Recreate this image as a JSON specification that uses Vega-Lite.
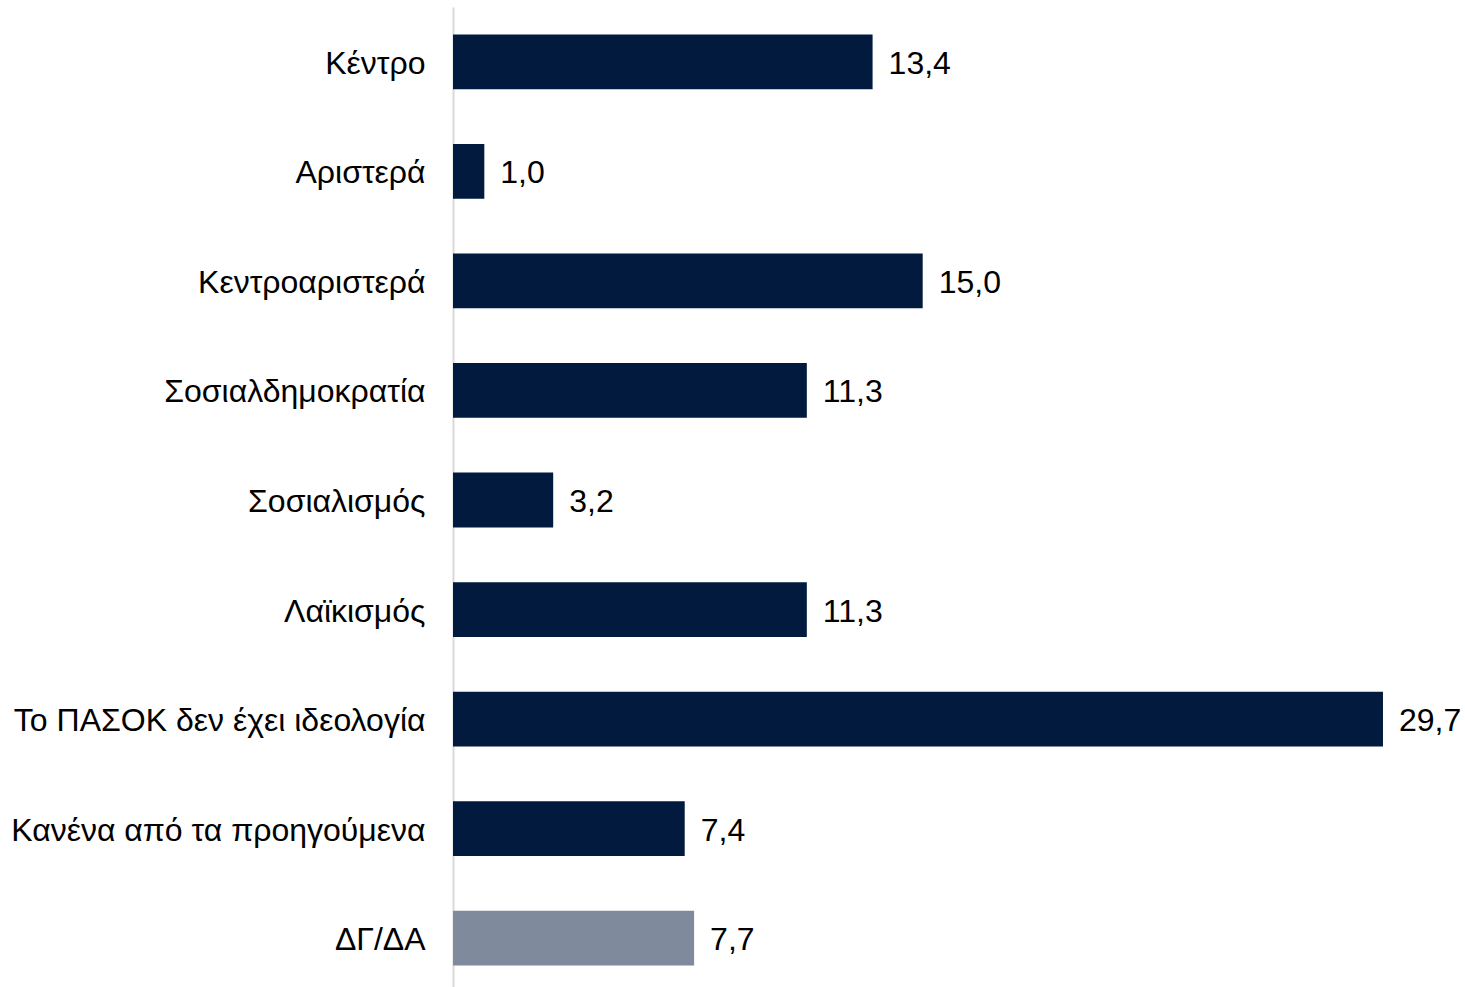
{
  "$schema": "https://vega.github.io/schema/vega-lite/v6.json",
  "autosize": {"type": "none"},
  "padding": {"left": 453, "top": 7, "right": 12, "bottom": 0},
  "width": 1002,
  "height": 986,
  "background": "white",
  "config": {"view": {"stroke": null}, "font": "Liberation Sans"},
  "data": {"values": [
    {"category": "Κέντρο", "value": 13.4, "label": "13,4", "type": "main"},
    {"category": "Αριστερά", "value": 1.0, "label": "1,0", "type": "main"},
    {"category": "Κεντροαριστερά", "value": 15.0, "label": "15,0", "type": "main"},
    {"category": "Σοσιαλδημοκρατία", "value": 11.3, "label": "11,3", "type": "main"},
    {"category": "Σοσιαλισμός", "value": 3.2, "label": "3,2", "type": "main"},
    {"category": "Λαϊκισμός", "value": 11.3, "label": "11,3", "type": "main"},
    {"category": "Το ΠΑΣΟΚ δεν έχει ιδεολογία", "value": 29.7, "label": "29,7", "type": "main"},
    {"category": "Κανένα από τα προηγούμενα", "value": 7.4, "label": "7,4", "type": "main"},
    {"category": "ΔΓ/ΔΑ", "value": 7.7, "label": "7,7", "type": "dk"}
  ]},
  "encoding": {
    "y": {
      "field": "category", "type": "nominal", "sort": null,
      "scale": {"paddingInner": 0.5, "paddingOuter": 0.25},
      "axis": {"title": null, "ticks": false, "domain": true, "domainColor": "#d9d9d9", "domainWidth": 2,
               "labelFontSize": 32, "labelColor": "#000000", "labelPadding": 28, "labelOffset": 2, "labelFont": "Liberation Sans", "labelLimit": 600}
    },
    "x": {"field": "value", "type": "quantitative", "scale": {"domain": [0, 32]}, "axis": null}
  },
  "layer": [
    {"mark": {"type": "bar", "clip": false},
     "encoding": {"color": {"field": "type", "type": "nominal", "scale": {"domain": ["main", "dk"], "range": ["#011a3e", "#7f8a9c"]}, "legend": null}}},
    {"mark": {"type": "text", "align": "left", "baseline": "middle", "dx": 16, "dy": 2, "fontSize": 32, "color": "#000000", "font": "Liberation Sans"},
     "encoding": {"text": {"field": "label"}}}
  ]
}
